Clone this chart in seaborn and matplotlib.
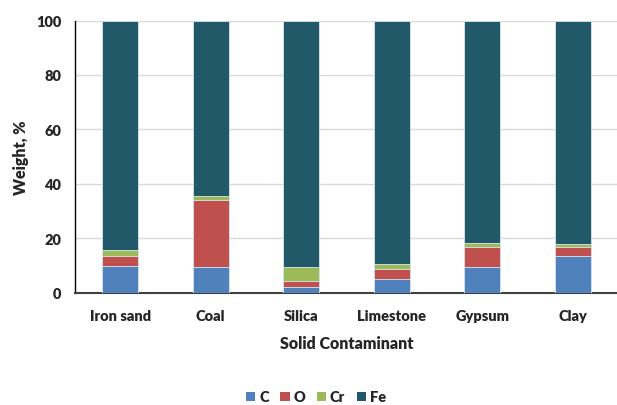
import matplotlib
matplotlib.use("Agg")
import matplotlib.pyplot as plt
import seaborn as sns
import pandas as pd
from matplotlib.patches import Patch

categories = ["Iron sand", "Coal", "Silica", "Limestone", "Gypsum", "Clay"]
c_vals = [9.7, 9.2, 2.2, 5.1, 9.2, 13.6]
o_vals = [3.9, 24.7, 2.2, 3.5, 7.6, 3.2]
cr_vals = [1.9, 1.4, 4.9, 1.7, 1.3, 1.2]
fe_vals = [84.5, 64.7, 90.7, 89.7, 81.9, 82.0]

elements = ["C", "O", "Cr", "Fe"]
colors = {"C": "#4F81BD", "O": "#C0504D", "Cr": "#9BBB59", "Fe": "#215968"}

df = pd.DataFrame({"category": categories, "C": c_vals, "O": o_vals,
                   "Cr": cr_vals, "Fe": fe_vals})
cum = df[elements].cumsum(axis=1)

sns.set_style("white")
plt.rcParams["font.family"] = ["Lato", "DejaVu Sans"]

W = "heavy"

fig = plt.figure(figsize=(6.17, 4.06), dpi=100)
ax = fig.add_axes([75 / 617, 1 - 293.5 / 406, 543 / 617, 272 / 406])

# stacked bars drawn from the tallest cumulative total down
for el in reversed(elements):
    sns.barplot(x=df["category"], y=cum[el], color=colors[el], width=0.4,
                edgecolor="#DCE6F0", linewidth=0.6, saturation=1, ax=ax, zorder=3)

ax.set_ylim(0, 100)
ax.set_yticks([0, 20, 40, 60, 80, 100])
ax.yaxis.grid(True, color="#D9D9D9", linewidth=1, zorder=0)
ax.set_axisbelow(True)
for s in ["top", "right"]:
    ax.spines[s].set_visible(False)
ax.spines["left"].set_color("#000000")
ax.spines["left"].set_linewidth(1.0)
ax.spines["bottom"].set_color("#404040")
ax.spines["bottom"].set_linewidth(1.5)
ax.tick_params(axis="x", length=0, labelsize=10.5, pad=12)
ax.tick_params(axis="y", length=0, labelsize=10.5, pad=10)
for t in ax.get_xticklabels() + ax.get_yticklabels():
    t.set_fontweight(W)
ax.set_xlabel("Solid Contaminant", fontsize=11.5, fontweight=W, labelpad=9)
ax.set_ylabel("Weight, %", fontsize=11.5, fontweight=W, labelpad=5)

handles = [Patch(facecolor=colors[e], edgecolor="none", label=e) for e in elements]
fig.legend(handles=handles, loc="center", bbox_to_anchor=(316 / 617, 1 - 398 / 406),
           ncol=4, frameon=False, handlelength=0.65, handleheight=0.65,
           handletextpad=0.25, columnspacing=0.8,
           prop={"size": 10.5, "weight": W})

fig.savefig("out.png", dpi=100)
